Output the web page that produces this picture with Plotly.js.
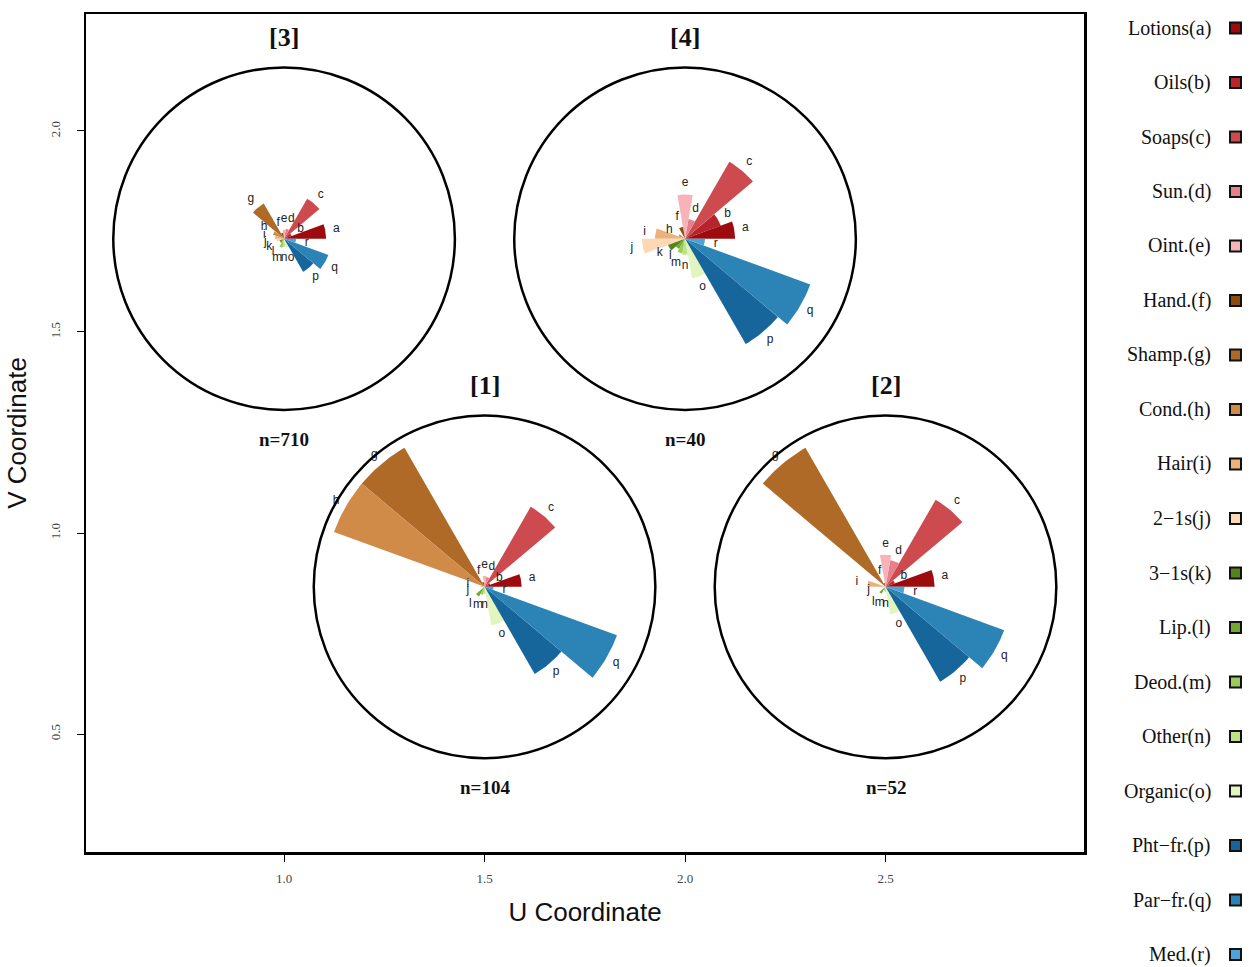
<!DOCTYPE html>
<html><head><meta charset="utf-8">
<script src="https://cdn.plot.ly/plotly-3.0.1.min.js"></script>
<style>html,body{margin:0;padding:0;background:#fff}#chart{width:1253px;height:967px}</style>
</head><body><div id="chart"></div>
<script>
// ---- data ----
const categories = ['Lotions(a)','Oils(b)','Soaps(c)','Sun.(d)','Oint.(e)','Hand.(f)','Shamp.(g)','Cond.(h)','Hair(i)','2\u22121s(j)','3\u22121s(k)','Lip.(l)','Deod.(m)','Other(n)','Organic(o)','Pht\u2212fr.(p)','Par\u2212fr.(q)','Med.(r)'];
const letters = ['a','b','c','d','e','f','g','h','i','j','k','l','m','n','o','p','q','r'];
const colors = ['#9E0B0F','#B8242B','#CD4B4F','#E7808A','#F8B3B9','#8C4D0C','#B06A27','#D08B49','#E9B27B','#FDD8B4','#52851A','#72A92B','#9BCB59','#BDE28A','#E3F5BF','#17669B','#2C84B6','#4AA4DA'];

const groupNames = ['[1]','[2]','[3]','[4]'];
const groupN = [104, 52, 710, 40];
const groupU = [1.5, 2.5, 1.0, 2.0];
const groupV = [0.866, 0.866, 1.732, 1.732];

// wedge lengths, in percent of the circle radius
const values1 = [21.7, 3.5, 54.0, 5.9, 6.5, 2.9, 93.8, 93.8, 2.3, 1.8, 0, 6.5, 4.7, 4.1, 22.9, 58.7, 82.5, 5.3];
const values2 = [28.7, 5.9, 58.7, 15.8, 18.8, 2.3, 93.8, 0, 10.6, 2.3, 0, 4.7, 2.3, 2.9, 16.4, 63.9, 73.9, 11.1];
const values3 = [24.6, 4.7, 27.0, 5.9, 5.3, 3.5, 23.8, 7.0, 5.3, 4.7, 2.9, 2.9, 5.3, 4.7, 5.3, 22.3, 27.6, 7.0];
const values4 = [29.3, 22.3, 51.9, 11.7, 25.8, 7.0, 0, 4.1, 17.6, 25.2, 10.6, 7.0, 8.8, 9.4, 23.5, 71.0, 78.0, 11.7];
const groupValues = [values1, values2, values3, values4];

const xTicks = [1.0, 1.5, 2.0, 2.5];
const xTickText = ['1.0','1.5','2.0','2.5'];
const yTicks = [0.5, 1.0, 1.5, 2.0];
const yTickText = ['0.5','1.0','1.5','2.0'];

// ---- geometry settings ----
const R = 0.426;            // circle radius in data units
const step = 360 / categories.length;
const xRange = [0.506, 2.995];
const yRange = [0.2065, 2.291];

const traces = [];
groupValues.forEach((vals, g) => {
  const cx = groupU[g], cy = groupV[g];
  const lx = [], ly = [], lt = [];
  vals.forEach((v, i) => {
    if (v <= 0) return;
    const r = v / 100 * R;
    const xs = [cx], ys = [cy];
    const N = 16;
    for (let k = 0; k <= N; k++) {
      const th = (step * i + step * k / N) * Math.PI / 180;
      xs.push(cx + r * Math.cos(th));
      ys.push(cy + r * Math.sin(th));
    }
    xs.push(cx); ys.push(cy);
    traces.push({type:'scatter', mode:'lines', x:xs, y:ys, fill:'toself',
      fillcolor:colors[i], line:{width:0, color:colors[i]}, hoverinfo:'skip', showlegend:false});
    const lr = Math.max(v + 6.5, 10) / 100 * R;
    const tm = (step * i + step / 2) * Math.PI / 180;
    lx.push(cx + lr * Math.cos(tm));
    ly.push(cy + lr * Math.sin(tm));
    lt.push(letters[i]);
  });
  traces.push({type:'scatter', mode:'text', x:lx, y:ly, text:lt, textposition:'middle center',
    textfont:{family:'Liberation Sans, Arial, sans-serif', size:12, color:'#222'},
    hoverinfo:'skip', showlegend:false});
});

const shapes = [];
const annotations = [];
groupNames.forEach((name, g) => {
  const cx = groupU[g], cy = groupV[g];
  shapes.push({type:'circle', xref:'x', yref:'y', x0:cx - R, x1:cx + R, y0:cy - R, y1:cy + R,
    line:{color:'#000', width:2.5}});
  annotations.push({xref:'x', yref:'y', x:cx, y:cy + 0.5, text:'<b>' + name + '</b>', showarrow:false,
    font:{family:'Liberation Serif, Times New Roman, serif', size:26, color:'#111'}});
  annotations.push({xref:'x', yref:'y', x:cx, y:cy - 0.5, text:'<b>n=' + groupN[g] + '</b>', showarrow:false,
    font:{family:'Liberation Serif, Times New Roman, serif', size:19, color:'#111'}});
});

// custom legend (text to the left of the swatch)
const W = 1253, H = 967, mL = 86, mR = 169, mT = 14, mB = 115;
const pw = W - mL - mR, ph = H - mT - mB;
const px2x = px => (px - mL) / pw;
const px2y = py => (H - mB - py) / ph;
categories.forEach((c, i) => {
  const py = 28 + i * 54.5;
  shapes.push({type:'rect', xref:'paper', yref:'paper', xsizemode:'pixel', ysizemode:'pixel',
    xanchor:px2x(1235.5), yanchor:px2y(py), x0:-5.5, x1:5.5, y0:-5.5, y1:5.5,
    fillcolor:colors[i], line:{color:'#111', width:2}});
  annotations.push({xref:'paper', yref:'paper', x:px2x(1213), y:px2y(py), xanchor:'right', yanchor:'middle',
    text:c, showarrow:false, font:{family:'Liberation Serif, Times New Roman, serif', size:20, color:'#111'}});
});

const axisCommon = {showline:true, mirror:true, linewidth:2.5, linecolor:'#000', showgrid:false, zeroline:false,
  ticks:'outside', ticklen:7, tickwidth:1, tickcolor:'#000',
  tickfont:{family:'Liberation Serif, Times New Roman, serif', size:13, color:'#444'}};

const layout = {
  width:W, height:H,
  margin:{l:mL, r:mR, t:mT, b:mB},
  paper_bgcolor:'#fff', plot_bgcolor:'#fff',
  showlegend:false,
  xaxis:Object.assign({}, axisCommon, {range:xRange, tickvals:xTicks, ticktext:xTickText, ticklabelstandoff:6,
    title:{text:'U Coordinate', font:{family:'Liberation Sans, Arial, sans-serif', size:26, color:'#111'}, standoff:18}}),
  yaxis:Object.assign({}, axisCommon, {range:yRange, tickvals:yTicks, ticktext:yTickText, tickangle:-90, ticklabelstandoff:11,
    title:{text:'V Coordinate', font:{family:'Liberation Sans, Arial, sans-serif', size:26, color:'#111'}, standoff:14}}),
  shapes:shapes,
  annotations:annotations
};

Plotly.newPlot('chart', traces, layout, {displayModeBar:false, staticPlot:true});
</script>
</body></html>
